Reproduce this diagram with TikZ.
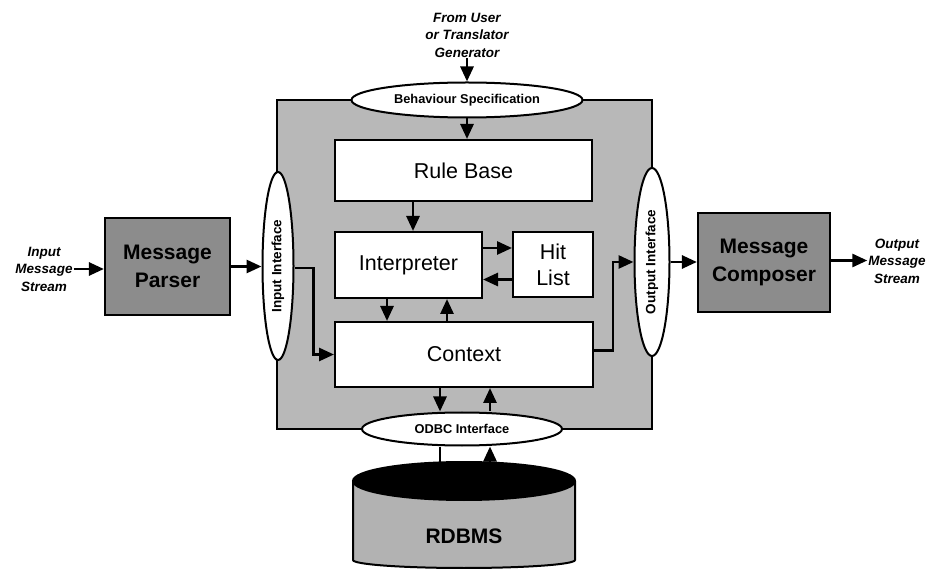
\documentclass[tikz,border=0pt]{standalone}
\usepackage{fontspec}
\setmainfont{Liberation Sans}
\usetikzlibrary{arrows.meta,shapes.geometric,calc}
\definecolor{framegray}{gray}{0.72}
\definecolor{darkgray}{gray}{0.55}
\definecolor{dbgray}{gray}{0.70}
\begin{document}
\begin{tikzpicture}[x=1pt,y=-1pt,
  arr/.style={line width=2.8pt,-{Triangle[length=15pt,width=13pt]}},
  ln/.style={line width=2.8pt},
  box/.style={draw,fill=white,line width=2pt,inner sep=0pt,align=center,
    font=\fontsize{21.5}{26}\selectfont},
  darkbox/.style={draw,fill=darkgray,line width=2.2pt,inner sep=0pt,align=center,
    font=\fontsize{21}{28}\selectfont\bfseries},
  iface/.style={ellipse,draw,fill=white,line width=2pt,inner sep=0pt,
    font=\fontsize{12.8}{16}\selectfont\bfseries},
  lbl/.style={align=center,inner sep=1pt,font=\fontsize{13.5}{17.5}\selectfont\bfseries\itshape}]
\useasboundingbox (0,0) rectangle (927,569);

% main frame
\node[draw,fill=framegray,line width=2pt,minimum width=375,minimum height=329,inner sep=0pt] (frame) at (464.5,264.5) {};

% inner boxes
\node[box,minimum width=257,minimum height=61] (rule) at (463.5,170.5) {Rule Base};
\node[box,minimum width=147,minimum height=66] (interp) at (408.5,265) {Interpreter};
\node[box,minimum width=80,minimum height=65] (hit) at (553,264.5) {Hit\\List};
\node[box,minimum width=258,minimum height=65] (context) at (464,354.5) {Context};

% interfaces
\node[iface,minimum width=231,minimum height=35] (bs) at (467,100) {Behaviour Specification};
\node[iface,minimum width=200,minimum height=33] (odbc) at (462,429) {ODBC Interface};
\node[iface,minimum width=31,minimum height=188] (ii) at (278,266) {};
\node[rotate=90,font=\fontsize{13.5}{16}\selectfont\bfseries] (iitext) at (ii.center) {Input Interface};
\node[iface,minimum width=35,minimum height=188] (oi) at (652,262) {};
\node[rotate=90,font=\fontsize{13.5}{16}\selectfont\bfseries] (oitext) at (oi.center) {Output Interface};

% outer boxes
\node[darkbox,minimum width=125,minimum height=97] (parser) at (167.5,266.5) {Message\\Parser};
\node[darkbox,minimum width=132,minimum height=99] (composer) at (764,262.5) {Message\\Composer};

% RDBMS cylinder
\draw[fill=dbgray,line width=2pt] (353,481) -- (353,560) arc(180:0:111 and 8) -- (575,481);
\filldraw[black,line width=2pt] (464,481) ellipse (111 and 19);
\coordinate (dbtop) at (464,462);
\node[font=\fontsize{21}{24}\selectfont\bfseries] (db) at (464,536) {RDBMS};

% labels
\node[lbl] (fromu) at (467,35) {From User\\or Translator\\Generator};
\node[lbl] (instr) at (44,269) {Input\\Message\\Stream};
\node[lbl] (outstr) at (897,261) {Output\\Message\\Stream};

% connectors
\draw[arr] (fromu.south) -- (bs.north);
\draw[arr] (bs.south) -- (bs.south |- rule.north);
\draw[arr] ([xshift=4.5pt]interp.north |- rule.south) -- ([xshift=4.5pt]interp.north);
\draw[arr] ([yshift=17pt]interp.east) -- ([yshift=17pt]interp.east -| hit.west);
\draw[arr] ([yshift=-15pt]hit.west) -- ([yshift=-15pt]hit.west -| interp.east);
\draw[arr] ([xshift=-21.5pt]interp.south) -- ([xshift=-21.5pt]interp.south |- context.north);
\draw[arr] ([xshift=38.5pt]interp.south |- context.north) -- ([xshift=38.5pt]interp.south);
\draw[arr] ([xshift=-24pt]context.south) -- ([xshift=-24pt]context.south |- odbc.north);
\draw[arr] ([xshift=26pt]context.south |- odbc.north) -- ([xshift=26pt]context.south);
\draw[ln] ([xshift=-22pt]odbc.south) -- ([xshift=-22pt]odbc.south |- dbtop);
\draw[arr] ([xshift=28pt]odbc.south |- dbtop) -- ([xshift=28pt]odbc.south);

\draw[arr] (instr.east) -- (instr.east -| parser.west);
\draw[arr] (parser.east) -- (parser.east -| ii.west);
\draw[arr] ([yshift=-2pt]ii.east) -- ++(19,0) |- (context.west);
\draw[arr] ([yshift=4pt]context.east) -- ++(19,0) |- (oi.west);
\draw[arr] (oi.east) -- (oi.east -| composer.west);
\draw[arr] ([yshift=2pt]composer.east) -- ([yshift=2pt]composer.east -| outstr.west);
\end{tikzpicture}
\end{document}
